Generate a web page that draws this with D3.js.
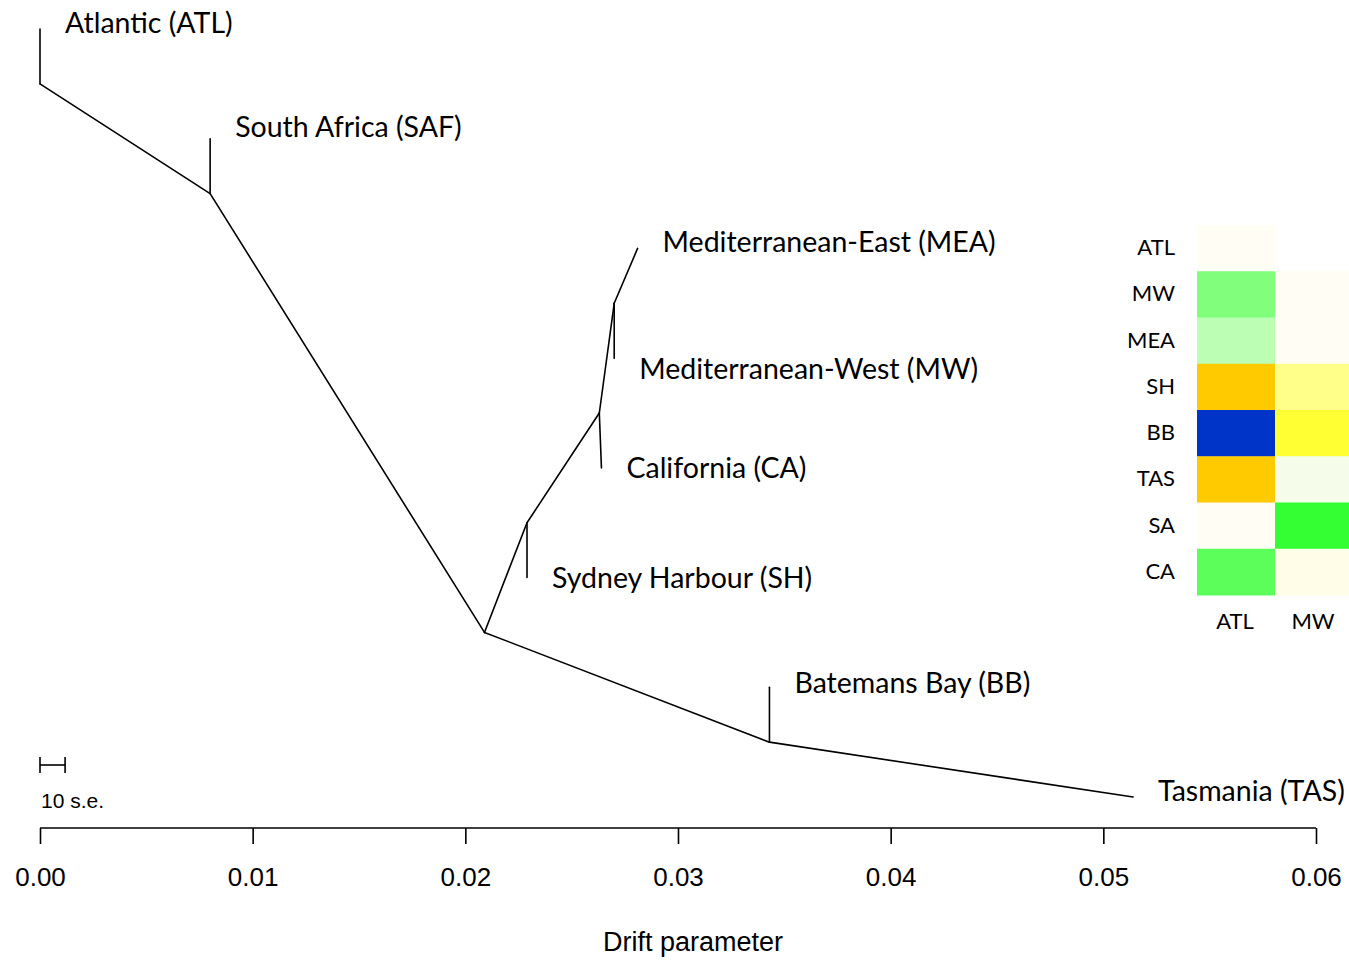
<!DOCTYPE html>
<html>
<head>
<meta charset="utf-8">
<script src="https://cdn.jsdelivr.net/npm/d3@7"></script>
<style>
  body { margin: 0; background: #fff; }
  svg { display: block; }
</style>
</head>
<body>
<div id="chart"></div>
<script>
// tree nodes: drift value + row (top to bottom)
const nodeNames = ["ATL", "r0", "SAF", "r1", "MEA", "rMW", "MW", "rCA", "CA", "rSH", "SH", "r2", "BB", "rBB", "TAS"];
const nodeDrift = [0, 0, 0.0080, 0.0080, 0.0281, 0.0270, 0.0270, 0.0263, 0.0264, 0.0229, 0.0229, 0.0209, 0.0343, 0.0343, 0.0514];
const nodeRow   = [0, 1, 2, 3, 4, 5, 6, 7, 8, 9, 10, 11, 12, 13, 14];

const edges = [
  ["ATL", "r0"], ["r0", "r1"], ["SAF", "r1"], ["r1", "r2"],
  ["r2", "rSH"], ["rSH", "SH"], ["rSH", "rCA"], ["rCA", "CA"],
  ["rCA", "rMW"], ["rMW", "MW"], ["rMW", "MEA"],
  ["r2", "rBB"], ["rBB", "BB"], ["rBB", "TAS"]
];

const tipNames  = ["ATL", "SAF", "MEA", "MW", "CA", "SH", "BB", "TAS"];
const tipLabels = ["Atlantic (ATL)", "South Africa (SAF)", "Mediterranean-East (MEA)", "Mediterranean-West (MW)",
                   "California (CA)", "Sydney Harbour (SH)", "Batemans Bay (BB)", "Tasmania (TAS)"];

const xTicks = [0, 0.01, 0.02, 0.03, 0.04, 0.05, 0.06];
const scaleBarDrift = 0.00118;

// residual heatmap
const hmRows = ["ATL", "MW", "MEA", "SH", "BB", "TAS", "SA", "CA"];
const hmCols = ["ATL", "MW"];
const hmAtl = [0.0, -0.62, -0.33, 0.7, 1.0, 0.7, 0.0, -0.8];
const hmMw  = [null, 0.0, 0.0, 0.3, 0.5, -0.05, -1.0, 0.035];

// label nudges (px)
const labelDy = {ATL: 4, SAF: -2, MEA: 4, MW: 21, CA: 10, SH: 10, BB: 6, TAS: 4};

const W = 1349, H = 960;
const svg = d3.select("#chart").append("svg")
  .attr("width", W)
  .attr("height", H);

const x = d3.scaleLinear().domain([0, 0.06]).range([40, 1316]);
const y = d3.scaleLinear().domain([0, 14]).range([29, 797]);

const nodes = {};
nodeNames.forEach((n, i) => { nodes[n] = {x: nodeDrift[i], row: nodeRow[i]}; });

// branches
svg.append("g").selectAll("line")
  .data(edges)
  .join("line")
  .attr("x1", d => x(nodes[d[0]].x))
  .attr("y1", d => y(nodes[d[0]].row))
  .attr("x2", d => x(nodes[d[1]].x))
  .attr("y2", d => y(nodes[d[1]].row))
  .attr("stroke", "#000")
  .attr("stroke-width", 1.6)
  .attr("stroke-linecap", "round");

// tip labels
svg.append("g").selectAll("text")
  .data(tipNames)
  .join("text")
  .attr("x", d => x(nodes[d].x) + 25)
  .attr("y", d => y(nodes[d].row) + labelDy[d])
  .attr("font-family", "Lato, 'Open Sans', sans-serif")
  .attr("font-size", 28.5)
  .attr("fill", "#000")
  .text((d, i) => tipLabels[i]);

// scale bar
const sb = svg.append("g").attr("stroke", "#000").attr("stroke-width", 1.6);
sb.append("line").attr("x1", x(0)).attr("x2", x(scaleBarDrift)).attr("y1", 765).attr("y2", 765);
sb.append("line").attr("x1", x(0)).attr("x2", x(0)).attr("y1", 757).attr("y2", 773);
sb.append("line").attr("x1", x(scaleBarDrift)).attr("x2", x(scaleBarDrift)).attr("y1", 757).attr("y2", 773);
svg.append("text")
  .attr("x", x(0) + 1)
  .attr("y", 808)
  .attr("font-family", "'Liberation Sans', Arial, sans-serif")
  .attr("font-size", 21)
  .text("10 s.e.");

// x axis
const xAxis = d3.axisBottom(x)
  .tickValues(xTicks)
  .tickFormat(d3.format(".2f"))
  .tickSize(16)
  .tickPadding(24);

const gx = svg.append("g")
  .attr("transform", "translate(0,828)")
  .call(xAxis);
gx.selectAll("path, line").attr("stroke", "#000").attr("stroke-width", 1.6);
gx.select(".domain").attr("d", "M" + x(0) + ",0H" + x(0.06));
gx.selectAll("text")
  .attr("font-family", "'Liberation Sans', Arial, sans-serif")
  .attr("font-size", 26)
  .attr("fill", "#000");

svg.append("text")
  .attr("x", 693)
  .attr("y", 951)
  .attr("text-anchor", "middle")
  .attr("font-family", "'Liberation Sans', Arial, sans-serif")
  .attr("font-size", 27)
  .text("Drift parameter");

// heatmap
const hx = d3.scaleBand().domain(hmCols).range([1197, 1353]);
const hy = d3.scaleBand().domain(hmRows).range([225, 595]);
const hColor = d3.scaleLinear()
  .domain([-1, 0, 0.3, 0.5, 0.7, 1])
  .range(["#33ff33", "#fffdf4", "#ffff8a", "#ffff33", "#ffcb00", "#0033c8"])
  .interpolate(d3.interpolateRgb);

const cells = [];
hmRows.forEach((r, i) => {
  cells.push({row: r, col: "ATL", v: hmAtl[i]});
  if (hmMw[i] !== null) cells.push({row: r, col: "MW", v: hmMw[i]});
});

svg.append("g").selectAll("rect")
  .data(cells)
  .join("rect")
  .attr("x", d => hx(d.col))
  .attr("y", d => hy(d.row))
  .attr("width", hx.bandwidth() + 0.5)
  .attr("height", hy.bandwidth() + 0.5)
  .attr("fill", d => hColor(d.v));

svg.append("g").selectAll("text")
  .data(hmRows)
  .join("text")
  .attr("x", 1175)
  .attr("y", d => hy(d) + hy.bandwidth() / 2 + 7)
  .attr("text-anchor", "end")
  .attr("font-family", "Lato, 'Open Sans', sans-serif")
  .attr("font-size", 22)
  .text(d => d);

svg.append("g").selectAll("text")
  .data(hmCols)
  .join("text")
  .attr("x", d => hx(d) + 38)
  .attr("y", 629)
  .attr("text-anchor", "middle")
  .attr("font-family", "Lato, 'Open Sans', sans-serif")
  .attr("font-size", 22)
  .text(d => d);
</script>
</body>
</html>
